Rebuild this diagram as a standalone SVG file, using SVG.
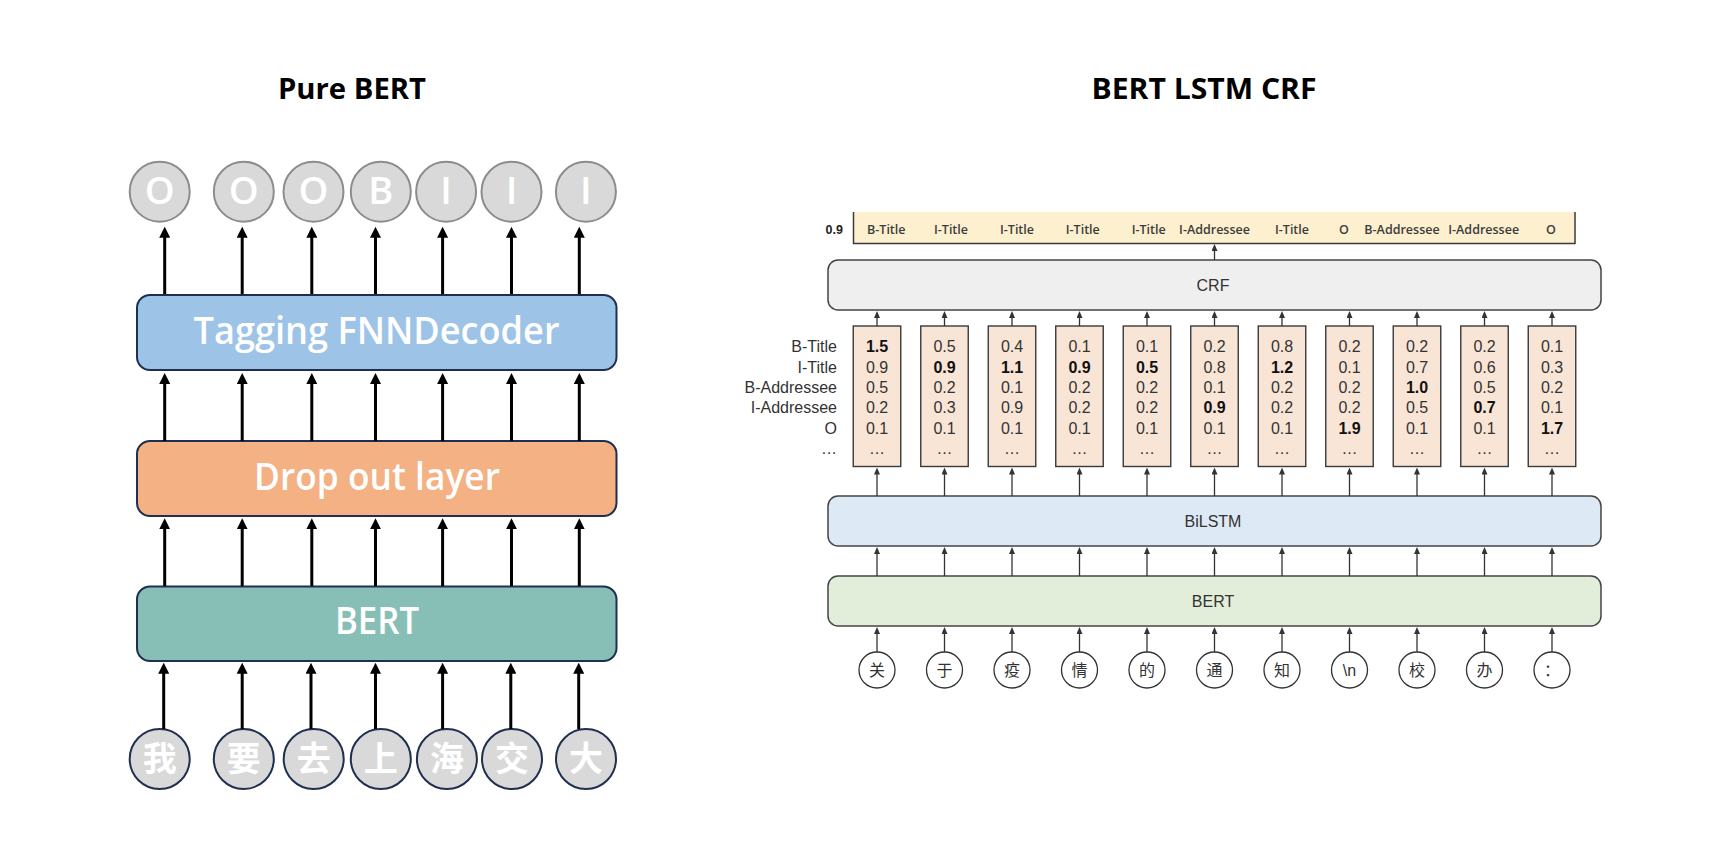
<svg xmlns="http://www.w3.org/2000/svg" width="1720" height="865" viewBox="0 0 1720 865">
<style>
.title{font-family:"Open Sans","Liberation Sans",sans-serif;font-weight:700;font-size:28px;fill:#000;text-anchor:middle}
.lbox{stroke:#1f2f4f;stroke-width:2}
.ltxt{font-family:"Open Sans","Liberation Sans",sans-serif;font-weight:600;font-size:38px;fill:#fff;text-anchor:middle}
.ocirc{fill:#d9d9d9;stroke:#8c8c8c;stroke-width:2}
.icirc{fill:#d9d9d9;stroke:#1f2f4f;stroke-width:2}
.otxt{font-family:"Open Sans","Liberation Sans",sans-serif;font-weight:600;font-size:38px;fill:#fff;text-anchor:middle}
.itxt{font-family:"Noto Sans CJK SC",sans-serif;font-weight:700;font-size:34px;fill:#fff;text-anchor:middle}
.la{stroke:#000;stroke-width:3;fill:none;marker-end:url(#ahL)}
.ra{stroke:#333;stroke-width:1.3;fill:none;marker-end:url(#ahR)}
.rbox{stroke:#444;stroke-width:1.5}
.rtxt{font-family:"Liberation Sans",Arial,sans-serif;font-size:16px;fill:#333;text-anchor:middle}
.sbox{fill:#f9e5d6;stroke:#3a3a3a;stroke-width:1.4}
.sc{font-family:"Liberation Sans",Arial,sans-serif;font-size:16px;fill:#333;text-anchor:middle}
.b{font-weight:700;fill:#111}
.rl{font-family:"Liberation Sans",Arial,sans-serif;font-size:16px;fill:#333;text-anchor:end}
.tag{font-family:"Open Sans","Liberation Sans",sans-serif;font-weight:600;font-size:12.5px;fill:#3c3c3c;text-anchor:middle}
.tok{fill:#fff;stroke:#333;stroke-width:1.3}
.ttxt{font-family:"Liberation Sans","Noto Sans CJK SC",sans-serif;font-size:16px;fill:#333;text-anchor:middle}
</style>
<defs>
<marker id="ahL" markerUnits="userSpaceOnUse" markerWidth="11" markerHeight="11" refX="2" refY="5.5" orient="auto">
<path d="M0,0 L11,5.5 L0,11 z" fill="#000"/>
</marker>
<marker id="ahR" markerUnits="userSpaceOnUse" markerWidth="7" markerHeight="6" refX="1" refY="3" orient="auto">
<path d="M0,0 L7,3 L0,6 z" fill="#333"/>
</marker>
</defs>
<rect width="1720" height="865" fill="#fff"/>

<g id="titles">
<text class="title" x="352" y="98.5" textLength="148" lengthAdjust="spacingAndGlyphs">Pure BERT</text>
<text class="title" x="1204" y="98.5" textLength="225" lengthAdjust="spacingAndGlyphs">BERT LSTM CRF</text>
</g>

<!-- LEFT: Pure BERT -->
<g id="left-outputs">
<g id="out1"><circle class="ocirc" cx="159.7" cy="191.7" r="30"/><text class="otxt" x="159.7" y="204">O</text></g>
<g id="out2"><circle class="ocirc" cx="243.8" cy="191.7" r="30"/><text class="otxt" x="243.8" y="204">O</text></g>
<g id="out3"><circle class="ocirc" cx="313.5" cy="191.7" r="30"/><text class="otxt" x="313.5" y="204">O</text></g>
<g id="out4"><circle class="ocirc" cx="380.8" cy="191.7" r="30"/><text class="otxt" x="380.8" y="204">B</text></g>
<g id="out5"><circle class="ocirc" cx="446.1" cy="191.7" r="30"/><text class="otxt" x="446.1" y="204">I</text></g>
<g id="out6"><circle class="ocirc" cx="511.5" cy="191.7" r="30"/><text class="otxt" x="511.5" y="204">I</text></g>
<g id="out7"><circle class="ocirc" cx="585.9" cy="191.7" r="30"/><text class="otxt" x="585.9" y="204">I</text></g>
</g>
<g id="tagging-decoder"><rect class="lbox" x="137" y="295" width="479.5" height="75" rx="13" fill="#9dc3e6"/><text class="ltxt" x="376.5" y="343.5" textLength="366" lengthAdjust="spacingAndGlyphs">Tagging FNNDecoder</text></g>
<g id="dropout"><rect class="lbox" x="137" y="441" width="479.5" height="75" rx="13" fill="#f4b183"/><text class="ltxt" x="377" y="490" textLength="246" lengthAdjust="spacingAndGlyphs">Drop out layer</text></g>
<g id="bert-left"><rect class="lbox" x="137" y="586.5" width="479.5" height="74.5" rx="13" fill="#87bfb6"/><text class="ltxt" x="377" y="634" textLength="84" lengthAdjust="spacingAndGlyphs">BERT</text></g>
<g id="left-inputs">
<g id="in1"><circle class="icirc" cx="159.7" cy="759" r="30"/><text class="itxt" x="159.7" y="771">我</text></g>
<g id="in2"><circle class="icirc" cx="243.8" cy="759" r="30"/><text class="itxt" x="243.8" y="771">要</text></g>
<g id="in3"><circle class="icirc" cx="313.7" cy="759" r="30"/><text class="itxt" x="313.7" y="771">去</text></g>
<g id="in4"><circle class="icirc" cx="380.8" cy="759" r="30"/><text class="itxt" x="380.8" y="771">上</text></g>
<g id="in5"><circle class="icirc" cx="446.9" cy="759" r="30"/><text class="itxt" x="446.9" y="771">海</text></g>
<g id="in6"><circle class="icirc" cx="512" cy="759" r="30"/><text class="itxt" x="512" y="771">交</text></g>
<g id="in7"><circle class="icirc" cx="586" cy="759" r="30"/><text class="itxt" x="586" y="771">大</text></g>
</g>
<g id="left-connectors">
<line class="la" x1="164.7" y1="294" x2="164.7" y2="235.7"/>
<line class="la" x1="242.2" y1="294" x2="242.2" y2="235.7"/>
<line class="la" x1="311.8" y1="294" x2="311.8" y2="235.7"/>
<line class="la" x1="375.5" y1="294" x2="375.5" y2="235.7"/>
<line class="la" x1="442.6" y1="294" x2="442.6" y2="235.7"/>
<line class="la" x1="511.5" y1="294" x2="511.5" y2="235.7"/>
<line class="la" x1="579.3" y1="294" x2="579.3" y2="235.7"/>
<line class="la" x1="164.7" y1="441" x2="164.7" y2="382"/>
<line class="la" x1="242.2" y1="441" x2="242.2" y2="382"/>
<line class="la" x1="311.8" y1="441" x2="311.8" y2="382"/>
<line class="la" x1="375.5" y1="441" x2="375.5" y2="382"/>
<line class="la" x1="442.6" y1="441" x2="442.6" y2="382"/>
<line class="la" x1="511.5" y1="441" x2="511.5" y2="382"/>
<line class="la" x1="579.3" y1="441" x2="579.3" y2="382"/>
<line class="la" x1="164.7" y1="586" x2="164.7" y2="527.3"/>
<line class="la" x1="242.2" y1="586" x2="242.2" y2="527.3"/>
<line class="la" x1="311.8" y1="586" x2="311.8" y2="527.3"/>
<line class="la" x1="375.5" y1="586" x2="375.5" y2="527.3"/>
<line class="la" x1="442.6" y1="586" x2="442.6" y2="527.3"/>
<line class="la" x1="511.5" y1="586" x2="511.5" y2="527.3"/>
<line class="la" x1="579.3" y1="586" x2="579.3" y2="527.3"/>
<line class="la" x1="163.7" y1="729" x2="163.7" y2="671.7"/>
<line class="la" x1="242.2" y1="729" x2="242.2" y2="671.7"/>
<line class="la" x1="311" y1="729" x2="311" y2="671.7"/>
<line class="la" x1="375.5" y1="729" x2="375.5" y2="671.7"/>
<line class="la" x1="442.6" y1="729" x2="442.6" y2="671.7"/>
<line class="la" x1="510.8" y1="729" x2="510.8" y2="671.7"/>
<line class="la" x1="578.7" y1="729" x2="578.7" y2="671.7"/>
</g>

<!-- RIGHT: BERT LSTM CRF -->
<g id="tag-bar">
<rect x="853.5" y="212" width="721.5" height="31.5" fill="#fdf0cf"/>
<path d="M853.5,212 V243.5 H1575 V212" fill="none" stroke="#3a3a3a" stroke-width="1.5"/>
<text x="843" y="234" font-family="Liberation Sans, Arial, sans-serif" font-weight="700" font-size="12.5" fill="#222" text-anchor="end">0.9</text>
<text class="tag" x="886.3" y="234">B-Title</text>
<text class="tag" x="951" y="234">I-Title</text>
<text class="tag" x="1017" y="234">I-Title</text>
<text class="tag" x="1082.8" y="234">I-Title</text>
<text class="tag" x="1148.7" y="234">I-Title</text>
<text class="tag" x="1214.5" y="234">I-Addressee</text>
<text class="tag" x="1292" y="234">I-Title</text>
<text class="tag" x="1344" y="234">O</text>
<text class="tag" x="1402" y="234">B-Addressee</text>
<text class="tag" x="1483.7" y="234">I-Addressee</text>
<text class="tag" x="1550.8" y="234">O</text>
</g>
<g id="crf"><rect class="rbox" x="828" y="260" width="773" height="50" rx="10" fill="#efefef"/><text class="rtxt" x="1213" y="291">CRF</text></g>
<g id="row-labels">
<text class="rl" x="837" y="352">B-Title</text>
<text class="rl" x="837" y="372.5">I-Title</text>
<text class="rl" x="837" y="393">B-Addressee</text>
<text class="rl" x="837" y="413">I-Addressee</text>
<text class="rl" x="837" y="433.5">O</text>
<text class="rl" x="837" y="454">…</text>
</g>
<g id="scores">
<g id="s1"><rect class="sbox" x="853.25" y="326" width="47.5" height="140.5"/><text class="sc"><tspan class="b" x="877" y="352">1.5</tspan><tspan x="877" y="372.5">0.9</tspan><tspan x="877" y="393">0.5</tspan><tspan x="877" y="413">0.2</tspan><tspan x="877" y="433.5">0.1</tspan><tspan x="877" y="454">…</tspan></text></g>
<g id="s2"><rect class="sbox" x="920.75" y="326" width="47.5" height="140.5"/><text class="sc"><tspan x="944.5" y="352">0.5</tspan><tspan class="b" x="944.5" y="372.5">0.9</tspan><tspan x="944.5" y="393">0.2</tspan><tspan x="944.5" y="413">0.3</tspan><tspan x="944.5" y="433.5">0.1</tspan><tspan x="944.5" y="454">…</tspan></text></g>
<g id="s3"><rect class="sbox" x="988.25" y="326" width="47.5" height="140.5"/><text class="sc"><tspan x="1012" y="352">0.4</tspan><tspan class="b" x="1012" y="372.5">1.1</tspan><tspan x="1012" y="393">0.1</tspan><tspan x="1012" y="413">0.9</tspan><tspan x="1012" y="433.5">0.1</tspan><tspan x="1012" y="454">…</tspan></text></g>
<g id="s4"><rect class="sbox" x="1055.75" y="326" width="47.5" height="140.5"/><text class="sc"><tspan x="1079.5" y="352">0.1</tspan><tspan class="b" x="1079.5" y="372.5">0.9</tspan><tspan x="1079.5" y="393">0.2</tspan><tspan x="1079.5" y="413">0.2</tspan><tspan x="1079.5" y="433.5">0.1</tspan><tspan x="1079.5" y="454">…</tspan></text></g>
<g id="s5"><rect class="sbox" x="1123.25" y="326" width="47.5" height="140.5"/><text class="sc"><tspan x="1147" y="352">0.1</tspan><tspan class="b" x="1147" y="372.5">0.5</tspan><tspan x="1147" y="393">0.2</tspan><tspan x="1147" y="413">0.2</tspan><tspan x="1147" y="433.5">0.1</tspan><tspan x="1147" y="454">…</tspan></text></g>
<g id="s6"><rect class="sbox" x="1190.75" y="326" width="47.5" height="140.5"/><text class="sc"><tspan x="1214.5" y="352">0.2</tspan><tspan x="1214.5" y="372.5">0.8</tspan><tspan x="1214.5" y="393">0.1</tspan><tspan class="b" x="1214.5" y="413">0.9</tspan><tspan x="1214.5" y="433.5">0.1</tspan><tspan x="1214.5" y="454">…</tspan></text></g>
<g id="s7"><rect class="sbox" x="1258.25" y="326" width="47.5" height="140.5"/><text class="sc"><tspan x="1282" y="352">0.8</tspan><tspan class="b" x="1282" y="372.5">1.2</tspan><tspan x="1282" y="393">0.2</tspan><tspan x="1282" y="413">0.2</tspan><tspan x="1282" y="433.5">0.1</tspan><tspan x="1282" y="454">…</tspan></text></g>
<g id="s8"><rect class="sbox" x="1325.75" y="326" width="47.5" height="140.5"/><text class="sc"><tspan x="1349.5" y="352">0.2</tspan><tspan x="1349.5" y="372.5">0.1</tspan><tspan x="1349.5" y="393">0.2</tspan><tspan x="1349.5" y="413">0.2</tspan><tspan class="b" x="1349.5" y="433.5">1.9</tspan><tspan x="1349.5" y="454">…</tspan></text></g>
<g id="s9"><rect class="sbox" x="1393.25" y="326" width="47.5" height="140.5"/><text class="sc"><tspan x="1417" y="352">0.2</tspan><tspan x="1417" y="372.5">0.7</tspan><tspan class="b" x="1417" y="393">1.0</tspan><tspan x="1417" y="413">0.5</tspan><tspan x="1417" y="433.5">0.1</tspan><tspan x="1417" y="454">…</tspan></text></g>
<g id="s10"><rect class="sbox" x="1460.75" y="326" width="47.5" height="140.5"/><text class="sc"><tspan x="1484.5" y="352">0.2</tspan><tspan x="1484.5" y="372.5">0.6</tspan><tspan x="1484.5" y="393">0.5</tspan><tspan class="b" x="1484.5" y="413">0.7</tspan><tspan x="1484.5" y="433.5">0.1</tspan><tspan x="1484.5" y="454">…</tspan></text></g>
<g id="s11"><rect class="sbox" x="1528.25" y="326" width="47.5" height="140.5"/><text class="sc"><tspan x="1552" y="352">0.1</tspan><tspan x="1552" y="372.5">0.3</tspan><tspan x="1552" y="393">0.2</tspan><tspan x="1552" y="413">0.1</tspan><tspan class="b" x="1552" y="433.5">1.7</tspan><tspan x="1552" y="454">…</tspan></text></g>
</g>
<g id="bilstm"><rect class="rbox" x="828" y="496" width="773" height="50" rx="10" fill="#dde9f5"/><text class="rtxt" x="1213" y="527">BiLSTM</text></g>
<g id="bert-right"><rect class="rbox" x="828" y="576" width="773" height="50" rx="10" fill="#e2eed9"/><text class="rtxt" x="1213" y="607">BERT</text></g>
<g id="tokens">
<g id="t1"><circle class="tok" cx="877" cy="670" r="18"/><text class="ttxt" x="877" y="676">关</text></g>
<g id="t2"><circle class="tok" cx="944.5" cy="670" r="18"/><text class="ttxt" x="944.5" y="676">于</text></g>
<g id="t3"><circle class="tok" cx="1012" cy="670" r="18"/><text class="ttxt" x="1012" y="676">疫</text></g>
<g id="t4"><circle class="tok" cx="1079.5" cy="670" r="18"/><text class="ttxt" x="1079.5" y="676">情</text></g>
<g id="t5"><circle class="tok" cx="1147" cy="670" r="18"/><text class="ttxt" x="1147" y="676">的</text></g>
<g id="t6"><circle class="tok" cx="1214.5" cy="670" r="18"/><text class="ttxt" x="1214.5" y="676">通</text></g>
<g id="t7"><circle class="tok" cx="1282" cy="670" r="18"/><text class="ttxt" x="1282" y="676">知</text></g>
<g id="t8"><circle class="tok" cx="1349.5" cy="670" r="18"/><text class="ttxt" x="1349.5" y="676">\n</text></g>
<g id="t9"><circle class="tok" cx="1417" cy="670" r="18"/><text class="ttxt" x="1417" y="676">校</text></g>
<g id="t10"><circle class="tok" cx="1484.5" cy="670" r="18"/><text class="ttxt" x="1484.5" y="676">办</text></g>
<g id="t11"><circle class="tok" cx="1552" cy="670" r="18"/><text class="ttxt" x="1552" y="676">：</text></g>
</g>
<g id="right-connectors">
<line class="ra" x1="1214.5" y1="260" x2="1214.5" y2="250"/>
<line class="ra" x1="877" y1="326" x2="877" y2="317"/>
<line class="ra" x1="944.5" y1="326" x2="944.5" y2="317"/>
<line class="ra" x1="1012" y1="326" x2="1012" y2="317"/>
<line class="ra" x1="1079.5" y1="326" x2="1079.5" y2="317"/>
<line class="ra" x1="1147" y1="326" x2="1147" y2="317"/>
<line class="ra" x1="1214.5" y1="326" x2="1214.5" y2="317"/>
<line class="ra" x1="1282" y1="326" x2="1282" y2="317"/>
<line class="ra" x1="1349.5" y1="326" x2="1349.5" y2="317"/>
<line class="ra" x1="1417" y1="326" x2="1417" y2="317"/>
<line class="ra" x1="1484.5" y1="326" x2="1484.5" y2="317"/>
<line class="ra" x1="1552" y1="326" x2="1552" y2="317"/>
<line class="ra" x1="877" y1="496" x2="877" y2="473.5"/>
<line class="ra" x1="944.5" y1="496" x2="944.5" y2="473.5"/>
<line class="ra" x1="1012" y1="496" x2="1012" y2="473.5"/>
<line class="ra" x1="1079.5" y1="496" x2="1079.5" y2="473.5"/>
<line class="ra" x1="1147" y1="496" x2="1147" y2="473.5"/>
<line class="ra" x1="1214.5" y1="496" x2="1214.5" y2="473.5"/>
<line class="ra" x1="1282" y1="496" x2="1282" y2="473.5"/>
<line class="ra" x1="1349.5" y1="496" x2="1349.5" y2="473.5"/>
<line class="ra" x1="1417" y1="496" x2="1417" y2="473.5"/>
<line class="ra" x1="1484.5" y1="496" x2="1484.5" y2="473.5"/>
<line class="ra" x1="1552" y1="496" x2="1552" y2="473.5"/>
<line class="ra" x1="877" y1="576" x2="877" y2="553"/>
<line class="ra" x1="944.5" y1="576" x2="944.5" y2="553"/>
<line class="ra" x1="1012" y1="576" x2="1012" y2="553"/>
<line class="ra" x1="1079.5" y1="576" x2="1079.5" y2="553"/>
<line class="ra" x1="1147" y1="576" x2="1147" y2="553"/>
<line class="ra" x1="1214.5" y1="576" x2="1214.5" y2="553"/>
<line class="ra" x1="1282" y1="576" x2="1282" y2="553"/>
<line class="ra" x1="1349.5" y1="576" x2="1349.5" y2="553"/>
<line class="ra" x1="1417" y1="576" x2="1417" y2="553"/>
<line class="ra" x1="1484.5" y1="576" x2="1484.5" y2="553"/>
<line class="ra" x1="1552" y1="576" x2="1552" y2="553"/>
<line class="ra" x1="877" y1="652" x2="877" y2="633"/>
<line class="ra" x1="944.5" y1="652" x2="944.5" y2="633"/>
<line class="ra" x1="1012" y1="652" x2="1012" y2="633"/>
<line class="ra" x1="1079.5" y1="652" x2="1079.5" y2="633"/>
<line class="ra" x1="1147" y1="652" x2="1147" y2="633"/>
<line class="ra" x1="1214.5" y1="652" x2="1214.5" y2="633"/>
<line class="ra" x1="1282" y1="652" x2="1282" y2="633"/>
<line class="ra" x1="1349.5" y1="652" x2="1349.5" y2="633"/>
<line class="ra" x1="1417" y1="652" x2="1417" y2="633"/>
<line class="ra" x1="1484.5" y1="652" x2="1484.5" y2="633"/>
<line class="ra" x1="1552" y1="652" x2="1552" y2="633"/>
</g>
</svg>
